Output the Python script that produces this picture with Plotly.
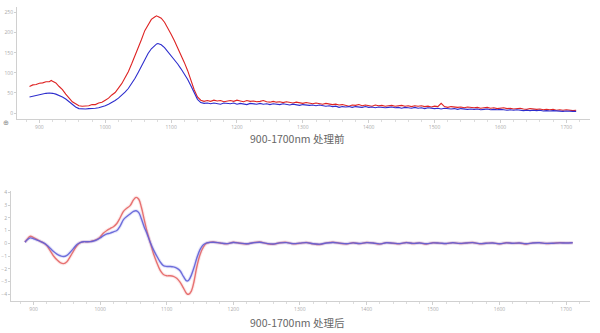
import plotly.graph_objects as go

# ---------------- top chart data (raw spectra) ----------------
top_nm = [885, 890, 895, 900, 905, 910, 915, 918, 920, 925, 930, 935, 940, 945, 950, 955, 960, 965, 970, 975,
          980, 985, 990, 995, 1000, 1005, 1010, 1015, 1020, 1025, 1030, 1035, 1040, 1045, 1050, 1055, 1060,
          1065, 1070, 1075, 1078, 1080, 1085, 1090, 1095, 1100, 1105, 1110, 1115, 1120, 1125, 1130, 1135,
          1140, 1145, 1150] + list(range(1155, 1716, 5))

top_red_head = [66, 70, 71, 74, 75, 78, 78, 81, 79, 75, 66, 58, 47, 38, 28, 23, 18, 17, 18, 18,
                21, 21, 25, 27, 32, 37, 45, 51, 62, 73, 88, 103, 122, 141, 163, 183, 205,
                221, 233, 239, 242, 240, 236, 226, 212, 196, 180, 163, 145, 126, 106, 82, 58,
                40, 32, 29]
top_red_tail = [31, 29, 32, 30, 31, 28, 30, 31, 29, 32, 30, 28, 31, 29, 30, 28, 29, 31, 28, 27,
                29, 27, 28, 26, 28, 27, 25, 27, 26, 24, 26, 25, 23, 25, 24, 22, 24, 23, 21, 22,
                20, 21, 19, 17, 20, 19, 21, 18, 20, 19, 17, 20, 18, 19, 17, 18, 19, 17, 18, 19,
                17, 18, 16, 18, 17, 18, 16, 17, 15, 17, 16, 24, 16, 14, 16, 15, 14, 15, 13, 15,
                14, 13, 14, 12, 13, 14, 12, 13, 11, 12, 13, 11, 12, 10, 11, 12, 10, 9, 11, 10,
                9, 10, 8, 9, 8, 9, 7, 8, 7, 8, 7, 6, 7]
top_red = top_red_head + top_red_tail

top_blue_head = [40, 42, 44, 46, 48, 49, 50, 50, 49, 47, 44, 40, 35, 28, 21, 15, 11, 10, 10, 11,
                 11, 12, 13, 15, 18, 22, 26, 31, 37, 44, 52, 61, 72, 86, 101, 118, 134,
                 148, 160, 168, 172, 173, 170, 163, 153, 143, 133, 122, 110, 98, 84, 68, 50,
                 34, 26, 24]
top_blue_tail = [25, 23, 25, 24, 22, 25, 24, 23, 25, 22, 24, 23, 21, 24, 23, 22, 24, 22, 23, 21,
                 23, 22, 21, 23, 22, 20, 22, 21, 19, 21, 20, 19, 20, 18, 20, 19, 17, 18, 16, 17,
                 14, 16, 15, 16, 14, 16, 15, 14, 16, 14, 15, 13, 15, 14, 13, 14, 15, 13, 14, 12,
                 14, 13, 12, 14, 12, 13, 11, 13, 12, 11, 12, 10, 12, 11, 10, 11, 9, 11, 10, 9,
                 10, 9, 10, 8, 9, 10, 8, 9, 8, 9, 8, 7, 8, 7, 8, 7, 6, 7, 6, 7,
                 6, 7, 5, 6, 5, 6, 5, 5, 4, 5, 4, 4, 4]
top_blue = top_blue_head + top_blue_tail

# ---------------- bottom chart data (processed spectra) ----------------
bot_nm_head = [887, 890, 895, 900, 905, 910, 915, 920, 925, 930, 935, 940, 945, 950, 955, 960, 965, 970,
               975, 980, 985, 990, 995, 1000, 1005, 1010, 1015, 1020, 1025, 1030, 1035, 1040, 1045,
               1050, 1054, 1058, 1062, 1066, 1070, 1075, 1080, 1085, 1090, 1095, 1100, 1105, 1110,
               1115, 1120, 1125, 1130, 1133, 1137, 1141, 1145, 1150, 1155, 1160, 1165, 1170]
bot_nm = bot_nm_head + list(range(1180, 1711, 10))

bot_red = [0.08, 0.3, 0.55, 0.45, 0.3, 0.15, 0.02, -0.2, -0.6, -1.0, -1.3, -1.52, -1.6, -1.45, -1.05,
           -0.6, -0.2, 0.05, 0.12, 0.12, 0.13, 0.2, 0.3, 0.5, 0.8, 1.0, 1.15, 1.3, 1.55, 2.0, 2.5,
           2.75, 2.95, 3.4, 3.6, 3.45, 2.8, 1.9, 1.0, 0.1, -0.8, -1.5, -2.1, -2.45, -2.55, -2.55,
           -2.6, -2.75, -3.05, -3.5, -3.95, -4.0, -3.75, -3.0, -1.9, -0.9, -0.3, 0.0, 0.08, 0.1,
           0.02, -0.05, 0.08, 0.0, -0.06, 0.05, 0.1, -0.02, -0.08, 0.04, 0.07, -0.04, 0.0, 0.06,
           -0.05, -0.1, 0.03, 0.08, 0.0, -0.05, 0.04, -0.03, 0.06, 0.02, -0.07, 0.05, 0.0, -0.04,
           0.06, -0.02, 0.03, -0.06, 0.04, 0.01, -0.03, 0.05, -0.02, 0.02, 0.06, -0.04, 0.0, 0.03,
           -0.05, 0.04, -0.01, 0.02, -0.06, 0.03, 0.05, -0.02, 0.0, 0.04, 0.03, 0.05]

bot_blue = [0.08, 0.25, 0.42, 0.35, 0.25, 0.15, 0.03, -0.15, -0.4, -0.65, -0.85, -0.98, -1.04, -0.95,
            -0.7, -0.4, -0.1, 0.05, 0.12, 0.12, 0.13, 0.18, 0.27, 0.42, 0.6, 0.73, 0.8, 0.9, 1.0,
            1.35, 1.85, 2.1, 2.3, 2.5, 2.55, 2.4, 1.9, 1.3, 0.8, 0.1, -0.5, -1.0, -1.45, -1.75,
            -1.82, -1.82, -1.85, -1.95, -2.15, -2.6, -2.95, -2.9, -2.5, -1.9, -1.2, -0.5, -0.12,
            0.03, 0.07, 0.08,
            0.03, -0.03, 0.06, 0.01, -0.04, 0.04, 0.08, -0.01, -0.06, 0.03, 0.05, -0.03, 0.01,
            0.05, -0.04, -0.07, 0.02, 0.06, 0.01, -0.04, 0.03, -0.02, 0.05, 0.02, -0.05, 0.04,
            0.01, -0.03, 0.05, -0.01, 0.02, -0.04, 0.03, 0.01, -0.02, 0.04, -0.01, 0.02, 0.05,
            -0.03, 0.0, 0.02, -0.04, 0.03, 0.0, 0.02, -0.04, 0.02, 0.04, -0.01, 0.0, 0.03, 0.02, 0.04]

x_ticks = [900, 1000, 1100, 1200, 1300, 1400, 1500, 1600, 1700]
top_y_ticks = [0, 50, 100, 150, 200, 250]
bot_y_ticks = [-4, -3, -2, -1, 0, 1, 2, 3, 4]
titles = ["900-1700nm 处理前", "900-1700nm 处理后"]

assert len(top_nm) == len(top_red) == len(top_blue), (len(top_nm), len(top_red), len(top_blue))
assert len(bot_nm) == len(bot_red) == len(bot_blue), (len(bot_nm), len(bot_red), len(bot_blue))

fig = go.Figure()

fig.add_trace(go.Scatter(x=top_nm, y=top_red, mode="lines", line=dict(color="rgb(222,35,35)", width=1.1),
                         xaxis="x", yaxis="y", showlegend=False))
fig.add_trace(go.Scatter(x=top_nm, y=top_blue, mode="lines", line=dict(color="rgb(45,45,205)", width=1.1),
                         xaxis="x", yaxis="y", showlegend=False))

for ys, col, glow in [(bot_red, "rgba(228,100,100,0.9)", "rgba(240,140,140,0.18)"),
                      (bot_blue, "rgba(95,95,215,0.9)", "rgba(130,130,235,0.18)")]:
    fig.add_trace(go.Scatter(x=bot_nm, y=ys, mode="lines", line=dict(color=glow, width=3.5, shape="spline"),
                             xaxis="x2", yaxis="y2", showlegend=False, hoverinfo="skip"))
    fig.add_trace(go.Scatter(x=bot_nm, y=ys, mode="lines", line=dict(color=col, width=1.4, shape="spline"),
                             xaxis="x2", yaxis="y2", showlegend=False))

tickfont = dict(family="Open Sans", size=5, color="#aaaaaa")
common_x = dict(range=[866, 1736], tickvals=x_ticks, showgrid=False, zeroline=False, showline=True,
                linecolor="#d0d0d0", linewidth=1, ticks="outside", ticklen=3, tickcolor="#d0d0d0",
                tickfont=tickfont, minor=dict(dtick=20, ticklen=2, tickcolor="#dddddd", ticks="outside"))
common_y = dict(showgrid=False, zeroline=False, showline=True, linecolor="#d0d0d0", linewidth=1,
                ticks="outside", ticklen=2, tickcolor="#d0d0d0", tickfont=tickfont)

fig.update_layout(
    width=600, height=333, margin=dict(l=0, r=0, t=0, b=0),
    paper_bgcolor="white", plot_bgcolor="white",
    xaxis=dict(domain=[17 / 600, 590 / 600], anchor="y", **common_x),
    yaxis=dict(domain=[1 - 117.3 / 333, 1 - 5 / 333], anchor="x", range=[-13.9, 264],
               tickvals=top_y_ticks, **common_y),
    xaxis2=dict(domain=[11 / 600, 590 / 600], anchor="y2", **common_x),
    yaxis2=dict(domain=[1 - 300.7 / 333, 1 - 190 / 333], anchor="x2", range=[-4.52, 4.11],
                tickvals=bot_y_ticks, **common_y),
    annotations=[
        dict(text=titles[0], x=0.495, y=1 - 137 / 333, xref="paper", yref="paper", showarrow=False,
             font=dict(family="Noto Sans CJK SC", size=10.5, color="#666666"), xanchor="center", yanchor="middle"),
        dict(text=titles[1], x=0.495, y=1 - 322 / 333, xref="paper", yref="paper", showarrow=False,
             font=dict(family="Noto Sans CJK SC", size=10.5, color="#666666"), xanchor="center", yanchor="middle"),
        dict(text="⊕", x=6 / 600, y=1 - 121 / 333, xref="paper", yref="paper", showarrow=False,
             font=dict(size=7, color="#888888"), xanchor="center", yanchor="middle"),
    ],
)

fig.write_html("out.html")
